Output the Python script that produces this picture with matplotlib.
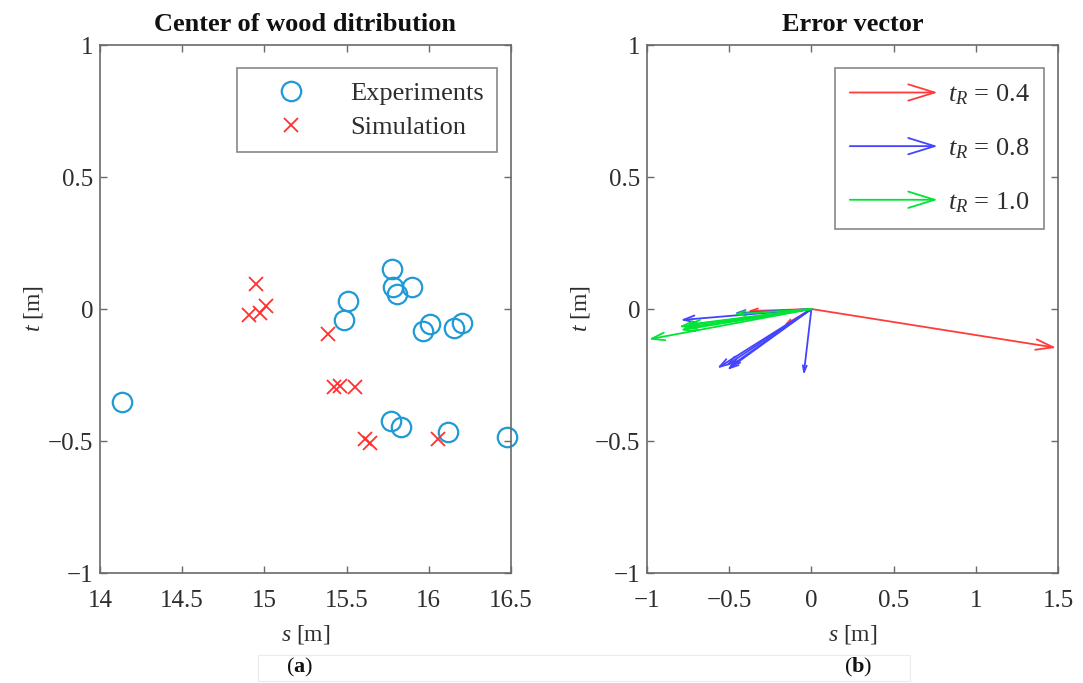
import matplotlib
matplotlib.use("Agg")
import matplotlib.pyplot as plt
from matplotlib.patches import FancyArrowPatch, Rectangle
from matplotlib.legend_handler import HandlerPatch
import numpy as np

plt.rcParams['font.family'] = ['Liberation Serif', 'DejaVu Serif']
plt.rcParams['mathtext.fontset'] = 'custom'
plt.rcParams['mathtext.rm'] = 'Liberation Serif'
plt.rcParams['mathtext.it'] = 'Liberation Serif:italic'
plt.rcParams['mathtext.bf'] = 'Liberation Serif:bold'
plt.rcParams['axes.unicode_minus'] = True

# ---------------- data ----------------
exp_s = [14.136, 15.778, 15.784, 15.804, 15.895, 15.510, 15.486, 15.962,
         16.007, 16.153, 16.200, 15.770, 15.829, 16.115, 16.474]
exp_t = [-0.351, 0.152, 0.085, 0.056, 0.085, 0.030, -0.042, -0.082,
         -0.058, -0.071, -0.052, -0.424, -0.446, -0.465, -0.484]

sim_s = [14.949, 14.906, 14.973, 15.010, 15.385, 15.423, 15.460, 15.551,
         15.612, 15.642, 16.058]
sim_t = [0.095, -0.023, -0.016, 0.011, -0.096, -0.294, -0.290, -0.294,
         -0.492, -0.509, -0.492]

err04_s = [1.490, -0.390, -0.168]
err04_t = [-0.147, -0.008, -0.063]
err08_s = [-0.574, -0.513, -0.503, -0.520, -0.047, -0.797, -0.470]
err08_t = [-0.225, -0.231, -0.221, -0.215, -0.250, -0.042, -0.016]
err10_s = [-0.990, -0.807, -0.797, -0.780, -0.760, -0.473]
err10_t = [-0.115, -0.067, -0.080, -0.072, -0.060, -0.020]

err_labels = [r'$t_R$ = 0.4', r'$t_R$ = 0.8', r'$t_R$ = 1.0']
err_colors = ['#ff3c3c', '#4444ff', '#00e436']

xticks_a = [14, 14.5, 15, 15.5, 16, 16.5]
xticks_b = [-1, -0.5, 0, 0.5, 1, 1.5]
yticks = [-1, -0.5, 0, 0.5, 1]

# ---------------- figure ----------------
W, H = 1083, 683
fig = plt.figure(figsize=(W / 100, H / 100), dpi=100)

def px_axes(x0, x1, y0, y1):
    return fig.add_axes([x0 / W, 1 - y1 / H, (x1 - x0) / W, (y1 - y0) / H])

ax1 = px_axes(100, 511, 45, 573)
ax2 = px_axes(647, 1058, 45, 573)

spine_col = '#6a6a6a'
txt_col = '#2e2e2e'
fs_tick = 18
fs_lab = 17
fs_title = 19
fs_leg = 19

def fmt(v):
    return ('%g' % v).replace('-', '\u2212')

for ax, xt in ((ax1, xticks_a), (ax2, xticks_b)):
    ax.set_xlim(xt[0], xt[-1])
    ax.set_ylim(-1, 1)
    ax.set_xticks(xt)
    ax.set_yticks(yticks)
    ax.set_xticklabels([fmt(v) for v in xt])
    ax.set_yticklabels([fmt(v) for v in yticks])
    ax.tick_params(direction='in', length=5, width=1, colors=spine_col,
                   labelcolor=txt_col, labelsize=fs_tick, top=True, right=True)
    ax.tick_params(axis='x', pad=12)
    ax.tick_params(axis='y', pad=5)
    for sp in ax.spines.values():
        sp.set_color(spine_col)
        sp.set_linewidth(1.2)
    ax.set_xlabel(r'$\mathit{s}$ [m]', fontsize=fs_lab, color=txt_col)
    ax.set_ylabel(r'$\mathit{t}$ [m]', fontsize=fs_lab, color=txt_col)
    ax.xaxis.set_label_coords(0.5, -0.094)
    ax.yaxis.set_label_coords(-0.135, 0.5)

# ---- panel (a) ----
blue = '#1f9ad6'
red = '#ff3030'
ax1.plot(exp_s, exp_t, 'o', ms=14, mfc='none', mec=blue, mew=1.6,
         ls='none', label='Experiments', clip_on=False)
ax1.plot(sim_s, sim_t, 'x', ms=10, mec=red, mew=1.3,
         ls='none', label='Simulation', clip_on=False)
ax1.set_title('Center of wood ditribution', fontsize=fs_title, fontweight='bold',
              color='#111111', pad=10)
leg1 = ax1.legend(loc='upper right', bbox_to_anchor=(0.966, 0.956), fontsize=fs_leg,
                  frameon=True, fancybox=False, edgecolor=spine_col,
                  handlelength=3.1, handletextpad=0.7, borderpad=0.5,
                  labelspacing=0.4, borderaxespad=0)
leg1.get_frame().set_linewidth(1.2)
for t in leg1.get_texts():
    t.set_color(txt_col)

# ---- panel (b) ----
def draw_arrows(ax, xs, ys, color):
    for x, y in zip(xs, ys):
        L = float(np.hypot(x, y))
        ms = 3.0 + 6.4 * L
        ax.annotate('', xy=(x, y), xytext=(0, 0),
                    arrowprops=dict(arrowstyle='->,head_length=1.0,head_width=0.3',
                                    color=color, lw=1.3, shrinkA=0, shrinkB=0,
                                    mutation_scale=ms))

draw_arrows(ax2, err04_s, err04_t, err_colors[0])
draw_arrows(ax2, err08_s, err08_t, err_colors[1])
draw_arrows(ax2, err10_s, err10_t, err_colors[2])
ax2.set_title('Error vector', fontsize=fs_title, fontweight='bold', color='#111111', pad=10)


class HandlerArrow(HandlerPatch):
    def create_artists(self, legend, orig_handle, xdescent, ydescent,
                       width, height, fontsize, trans):
        p = FancyArrowPatch((-xdescent, height / 2 - ydescent),
                            (width - xdescent, height / 2 - ydescent),
                            arrowstyle='->,head_length=1.0,head_width=0.31',
                            mutation_scale=19, lw=1.3,
                            color=orig_handle.get_edgecolor(),
                            shrinkA=0, shrinkB=0)
        p.set_transform(trans)
        return [p]


handles = [FancyArrowPatch((0, 0), (1, 0), color=c) for c in err_colors]
leg2 = ax2.legend(handles, err_labels, loc='upper right',
                  bbox_to_anchor=(0.966, 0.956), fontsize=fs_leg,
                  handler_map={FancyArrowPatch: HandlerArrow()},
                  frameon=True, fancybox=False, edgecolor=spine_col,
                  handlelength=3.33, handletextpad=0.38, borderpad=0.55,
                  labelspacing=1.1, borderaxespad=0)
leg2.get_frame().set_linewidth(1.2)
for t in leg2.get_texts():
    t.set_color(txt_col)

# ---- caption ----
fig.add_artist(Rectangle((258 / W, 1 - 681 / H), (910 - 258) / W, 26 / H,
                         transform=fig.transFigure, fill=False,
                         edgecolor='#ececec', lw=0.8))
fig.text(300 / W, 1 - 667 / H, r'($\mathbf{a}$)', fontsize=16, ha='center',
         va='center', color='#111111')
fig.text(858 / W, 1 - 667 / H, r'($\mathbf{b}$)', fontsize=16, ha='center',
         va='center', color='#111111')

fig.savefig('out.png', dpi=100, facecolor='white')
